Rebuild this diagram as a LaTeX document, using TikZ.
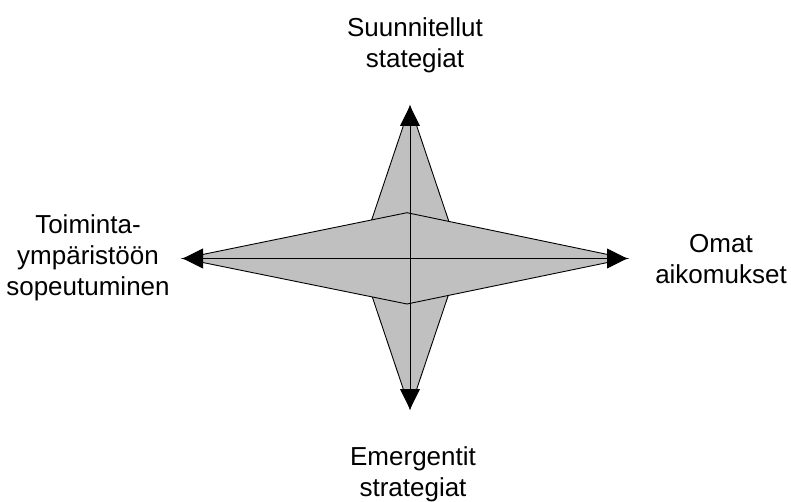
\documentclass[tikz,border=0pt]{standalone}
\usepackage{fontspec}
\setmainfont{Liberation Sans}
\usetikzlibrary{arrows.meta}
\definecolor{stargray}{HTML}{C0C0C0}
\tikzset{
  lbl/.style={align=center, inner sep=0pt, anchor=base, font=\fontsize{26}{31}\selectfont},
  starpart/.style={fill=stargray, draw=black, line width=0.9pt, line join=miter},
  axis/.style={draw=black, line width=0.9pt, {Triangle[length=20pt,width=20pt]}-{Triangle[length=20pt,width=20pt]}}
}
\begin{document}
\begin{tikzpicture}[x=1pt,y=-1pt]
\useasboundingbox (0,0) rectangle (791,502);
% vertical diamond
\coordinate (vt) at (410,106);
\coordinate (vb) at (410,409);
\coordinate (vl) at (359,257.5);
\coordinate (vr) at (461,257.5);
\path[starpart] (vt) -- (vr) -- (vb) -- (vl) -- cycle;
% horizontal diamond
\coordinate (hl) at (183,258.5);
\coordinate (hr) at (627,258.5);
\coordinate (ht) at (407,212.7);
\coordinate (hb) at (407,304);
\path[starpart] (hl) -- (ht) -- (hr) -- (hb) -- cycle;
% axes
\coordinate (at) at (410,106);
\coordinate (ab) at (410,409);
\coordinate (al) at (183,258.5);
\coordinate (ar) at (627,258.5);
\draw[axis] (at) -- (ab);
\draw[axis] (al) -- (ar);
% labels (anchor = baseline of last line)
\node[lbl] (top) at (415,68) {Suunnitellut\\stategiat};
\node[lbl] (bottom) at (413,496) {Emergentit\\strategiat};
\node[lbl] (right) at (721,283.3) {Omat\\aikomukset};
\node[lbl] (left) at (88,295) {Toiminta-\\ympäristöön\\sopeutuminen};
\end{tikzpicture}
\end{document}
